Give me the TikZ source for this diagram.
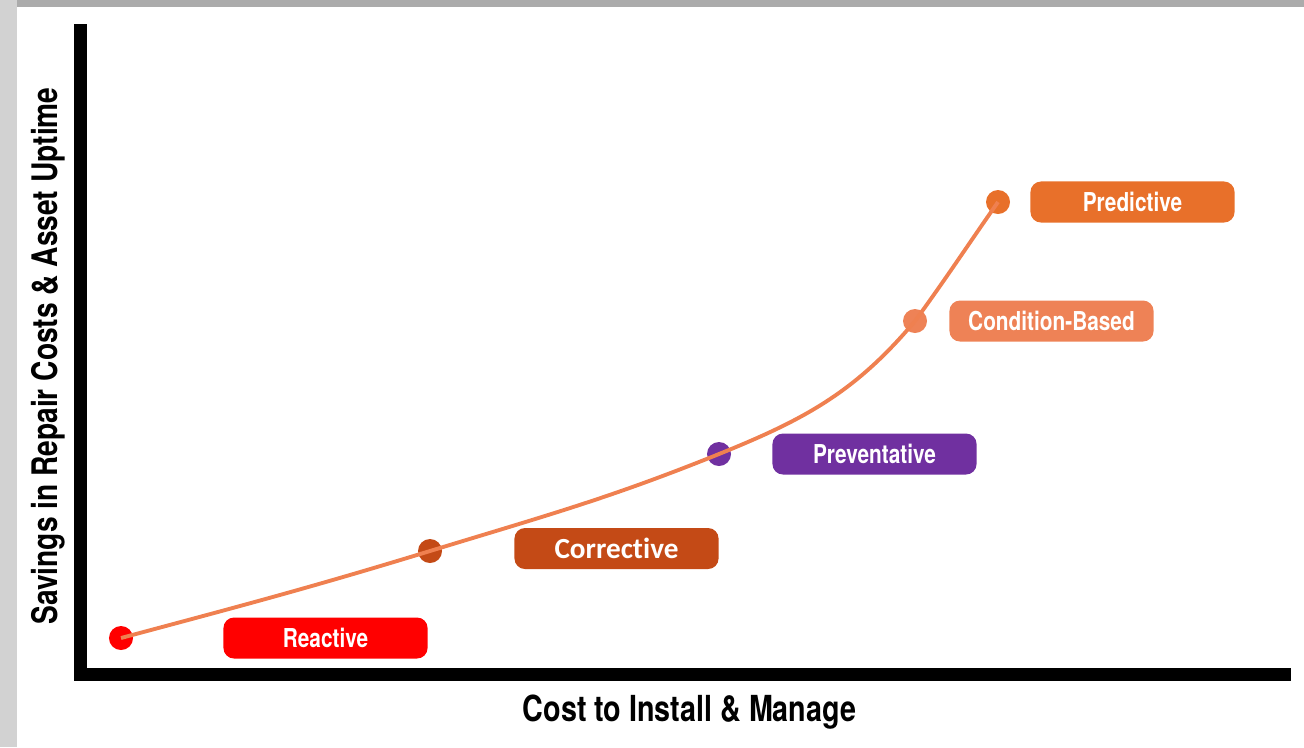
\documentclass[tikz,border=0pt]{standalone}
\usepackage{fontspec}
\usetikzlibrary{positioning}
\newfontfamily\condfont[FakeStretch=0.8]{TeX Gyre Heros}
\newfontfamily\corrfont[Ligatures=NoCommon]{Carlito}
\definecolor{reactred}{HTML}{FF0000}
\definecolor{corrbrown}{HTML}{C44A16}
\definecolor{prevpurple}{HTML}{7030A0}
\definecolor{condorange}{HTML}{EE8256}
\definecolor{predorange}{HTML}{E8702A}
\definecolor{curveorange}{HTML}{EF8050}
\definecolor{framegray}{HTML}{ABABAB}
\definecolor{sidegray}{HTML}{D2D2D2}
\begin{document}
\begin{tikzpicture}[x=0.01cm,y=0.01cm,
     stagedot/.style = {circle,minimum size=0.24cm,inner sep=0pt,fill=#1},
     stagebox/.style =
     { rounded corners=3pt,minimum width=2.04cm,minimum height=0.41cm,inner sep=0pt,
       fill=#1,text=white,font=\condfont\bfseries\fontsize{7.4}{8}\selectfont},
     axislabel/.style = {anchor=base,font=\condfont\bfseries\fontsize{10}{12}\selectfont}]
  \useasboundingbox (0,0) rectangle (1304,747);
  \fill[sidegray] (0,0) rectangle (17,747);
  \fill[framegray] (17,740) rectangle (1304,747);
  \coordinate (ytop) at (80.5,723);
  \coordinate (origin) at (80.5,72.5);
  \coordinate (xend) at (1291,72.5);
  \draw[line width=0.13cm] (ytop) -- (origin) -- (xend);
  \node[axislabel,rotate=90] (ylab) at (57,391) {Savings in Repair Costs \& Asset Uptime};
  \node[axislabel,font=\condfont\bfseries\fontsize{10.2}{12}\selectfont] (xlab) at (689.5,26) {Cost to Install \& Manage};
  \node[stagedot=reactred] (r) at (121,109) {};
  \node[stagedot=corrbrown] (c) at (430,196) {};
  \node[stagedot=prevpurple] (p) at (719,293) {};
  \node[stagedot=condorange] (b) at (915,426) {};
  \node[stagedot=predorange] (d) at (998,545) {};
  \draw[curveorange,line width=1.1pt] (r.center) to[out=15,in=197] (c.center)
     to[out=17,in=202] (p.center) to[out=22,in=230] (b.center) to[out=54,in=235] (d.center);
  \node[stagebox=reactred,right=0.89cm of r] (rbox) {Reactive};
  \node[stagebox=corrbrown,right=0.71cm of c,yshift=0.025cm,
        font=\corrfont\bfseries\fontsize{8.3}{9}\selectfont] (cbox) {Corrective};
  \node[stagebox=prevpurple,right=0.40cm of p] (pbox) {Preventative};
  \node[stagebox=condorange,right=0.21cm of b] (bbox) {Condition-Based};
  \node[stagebox=predorange,right=0.19cm of d] (dbox) {Predictive};
\end{tikzpicture}
\end{document}
